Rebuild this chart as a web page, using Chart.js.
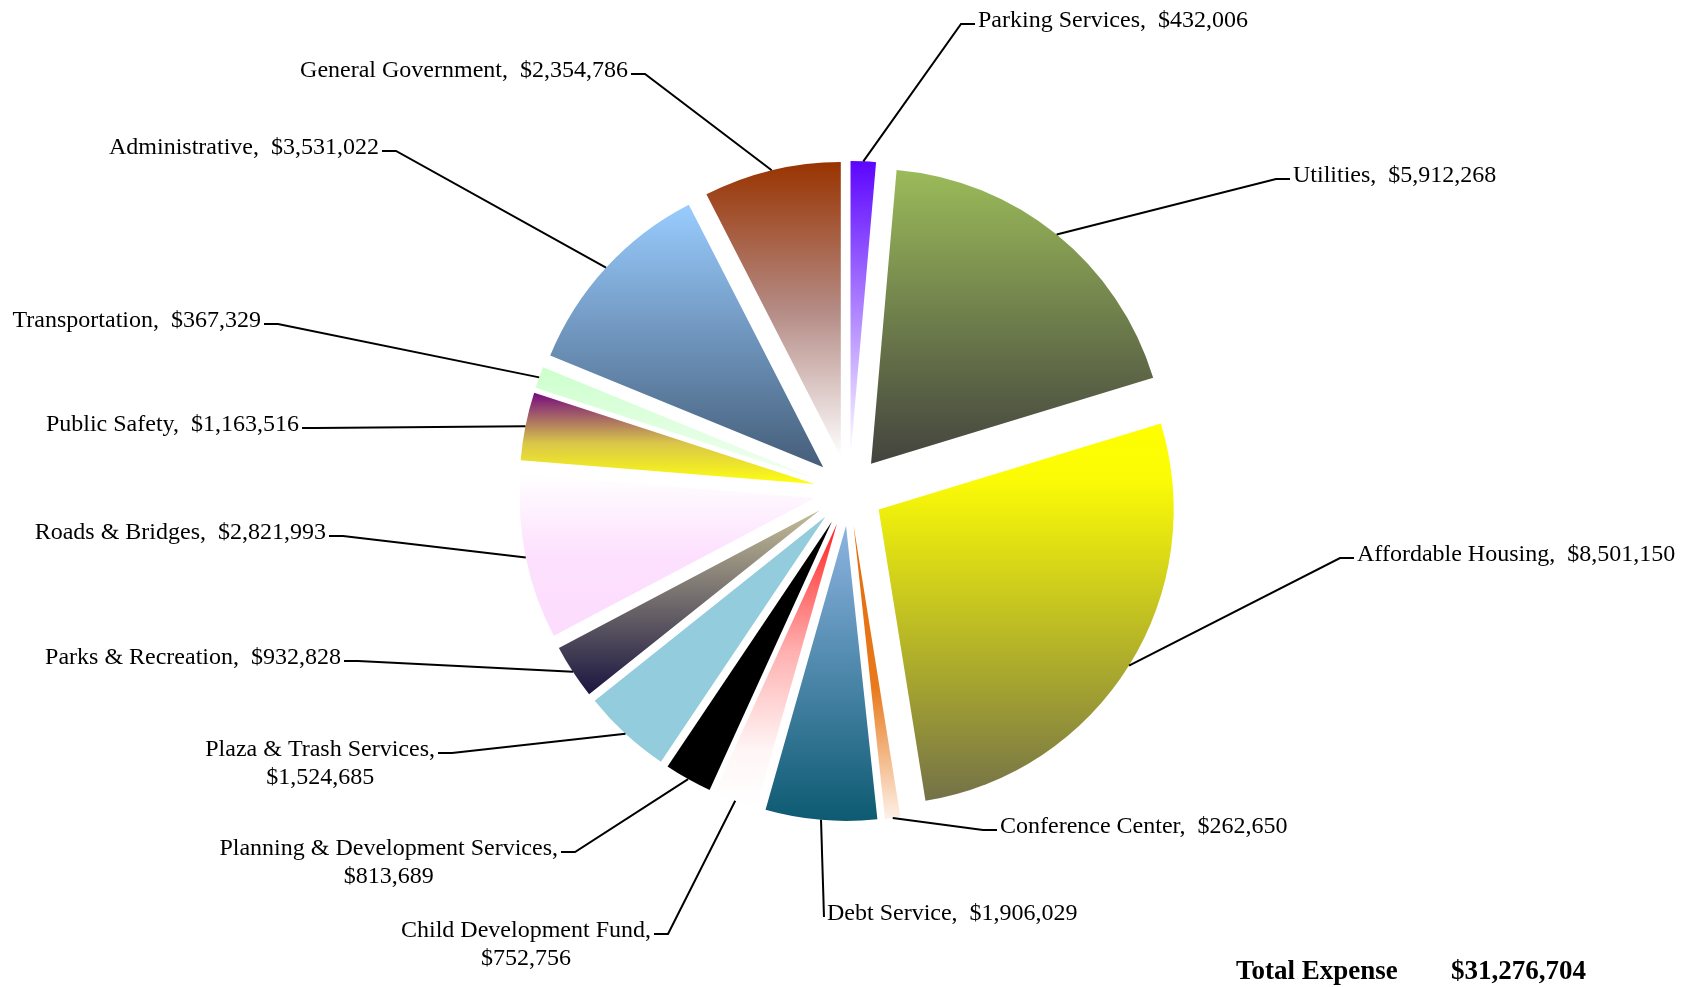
<!DOCTYPE html>
<html>
<head>
<meta charset="utf-8">
<title>Total Expense</title>
<script src="https://cdn.jsdelivr.net/npm/chart.js@4.4.1/dist/chart.umd.min.js"></script>
<style>
  html, body { margin: 0; padding: 0; background: #fff; }
  #contenedor { position: relative; width: 1692px; height: 987px; }
</style>
</head>
<body>
<div id="contenedor"><canvas id="graficaGastos"></canvas></div>
<script>
const categories = [
  'Parking Services', 'Utilities', 'Affordable Housing', 'Conference Center',
  'Debt Service', 'Child Development Fund', 'Planning & Development Services',
  'Plaza & Trash Services', 'Parks & Recreation', 'Roads & Bridges',
  'Public Safety', 'Transportation', 'Administrative', 'General Government'
];
const expenses = [
  432006, 5912268, 8501150, 262650,
  1906029, 752756, 813689,
  1524685, 932828, 2821993,
  1163516, 367329, 3531022, 2354786
];
const totalExpense = 31276704;
// labels where the amount goes on its own line
const wrappedLabels = ['Child Development Fund', 'Planning & Development Services', 'Plaza & Trash Services'];

// vertical gradient stops for every slice, top -> bottom
const sliceFills = [
  [[0, '#5c05ff'], [1, '#ffffff']],
  [[0, '#9bbb59'], [1, '#43433e']],
  [[0, '#ffff00'], [0.15, '#fbfb06'], [1, '#737148']],
  [[0, '#e36c09'], [0.55, '#e8791c'], [1, '#fdf1e8']],
  [[0, '#8db4e2'], [1, '#0d5a72']],
  [[0, '#ff2020'], [0.45, '#ffb0b0'], [0.8, '#fff6f6'], [1, '#ffffff']],
  [[0, '#000000']],
  [[0, '#93cddd']],
  [[0, '#c4bd97'], [1, '#1b1640']],
  [[0, '#ffffff'], [0.5, '#fde0fe'], [1, '#fddcfd']],
  [[0, '#750a80'], [0.55, '#d9c64a'], [1, '#ffff10']],
  [[0, '#ccffcc'], [1, '#f2fff2']],
  [[0, '#99ccff'], [1, '#455e7a']],
  [[0, '#993300'], [0.5, '#b48a84'], [1, '#ffffff']]
];

const RADIUS = 295;
const EXPLODE = 35;
const FONT_FAMILY = "'Liberation Serif', 'Times New Roman', serif";

// elbow of each leader line: x, y, side of the text, length of the horizontal tail
const labelAnchors = [
  [961, 24, 'R'], [1276, 179, 'R'], [1340, 558, 'R'], [983, 830, 'R'],
  [824, 917, 'R', 0], [668, 934, 'L'], [575, 852, 'L'],
  [452, 753, 'L'], [358, 661, 'L'], [343, 536, 'L'],
  [316, 428, 'L'], [278, 324, 'L'], [396, 151, 'L'], [645, 74, 'L']
];

function money(v) {
  return '$' + v.toLocaleString('en-US');
}

function sliceAngles(data, i) {
  const sum = data.reduce((a, b) => a + b, 0);
  let acc = 0;
  for (let k = 0; k < i; k++) acc += data[k];
  const start = -Math.PI / 2 + acc / sum * 2 * Math.PI;
  return [start, start + data[i] / sum * 2 * Math.PI];
}

function sliceFill(context) {
  const stops = sliceFills[context.dataIndex];
  const area = context.chart.chartArea;
  if (stops.length === 1 || !area) return stops[0][1];
  const cy = (area.top + area.bottom) / 2;
  const [a0, a1] = sliceAngles(context.dataset.data, context.dataIndex);
  const ys = [cy, cy + RADIUS * Math.sin(a0), cy + RADIUS * Math.sin(a1)];
  if (a0 < Math.PI / 2 && a1 > Math.PI / 2) ys.push(cy + RADIUS);
  const shift = Math.sin((a0 + a1) / 2) * EXPLODE;
  const g = context.chart.ctx.createLinearGradient(0, Math.min(...ys) + shift, 0, Math.max(...ys) + shift);
  stops.forEach(([p, c]) => g.addColorStop(p, c));
  return g;
}

// pulls every slice out from the centre while it is drawn
const explodeSlices = {
  id: 'explodeSlices',
  beforeDatasetDraw(chart, args) {
    args.meta.data.forEach(arc => {
      const mid = (arc.startAngle + arc.endAngle) / 2;
      arc.x += Math.cos(mid) * EXPLODE;
      arc.y += Math.sin(mid) * EXPLODE;
    });
  },
  afterDatasetDraw(chart, args) {
    args.meta.data.forEach(arc => {
      const mid = (arc.startAngle + arc.endAngle) / 2;
      arc.x -= Math.cos(mid) * EXPLODE;
      arc.y -= Math.sin(mid) * EXPLODE;
    });
  }
};

const leaderLabels = {
  id: 'leaderLabels',
  afterDraw(chart) {
    const ctx = chart.ctx;
    const arcs = chart.getDatasetMeta(0).data;
    ctx.save();
    ctx.strokeStyle = '#000';
    ctx.fillStyle = '#000';
    ctx.lineWidth = 2;
    ctx.font = '24px ' + FONT_FAMILY;
    ctx.textBaseline = 'alphabetic';

    arcs.forEach((arc, i) => {
      const mid = (arc.startAngle + arc.endAngle) / 2;
      const r = arc.outerRadius + EXPLODE;
      const x0 = arc.x + Math.cos(mid) * r;
      const y0 = arc.y + Math.sin(mid) * r;
      const [ex, ey, side, tail = 14] = labelAnchors[i];
      const dir = side === 'R' ? 1 : -1;
      const sx = ex + dir * tail;

      ctx.beginPath();
      ctx.moveTo(x0, y0);
      ctx.lineTo(ex, ey);
      ctx.lineTo(sx, ey);
      ctx.stroke();

      const name = categories[i];
      const lines = wrappedLabels.includes(name)
        ? [name + ',', money(expenses[i])]
        : [name + ',  ' + money(expenses[i])];
      const tx = sx + dir * 3;
      const by = ey + 3.4;
      if (lines.length === 1) {
        ctx.textAlign = side === 'R' ? 'left' : 'right';
        ctx.fillText(lines[0], tx, by);
      } else {
        const w = Math.max(...lines.map(l => ctx.measureText(l).width));
        ctx.textAlign = 'center';
        lines.forEach((l, k) => ctx.fillText(l, tx + dir * w / 2, by + k * 28));
      }
    });

    ctx.font = 'bold 27px ' + FONT_FAMILY;
    ctx.textAlign = 'left';
    ctx.fillText('Total Expense', 1236, 979);
    ctx.fillText(money(totalExpense), 1451, 979);
    ctx.restore();
  }
};

new Chart(document.getElementById('graficaGastos'), {
  type: 'pie',
  data: {
    labels: categories,
    datasets: [{
      data: expenses,
      backgroundColor: sliceFill,
      borderWidth: 0,
      radius: RADIUS
    }]
  },
  options: {
    responsive: true,
    maintainAspectRatio: false,
    animation: false,
    layout: { padding: { left: 504, right: 498, top: 180, bottom: 185 } },
    plugins: {
      legend: { display: false },
      tooltip: { enabled: false }
    }
  },
  plugins: [explodeSlices, leaderLabels]
});
</script>
</body>
</html>
